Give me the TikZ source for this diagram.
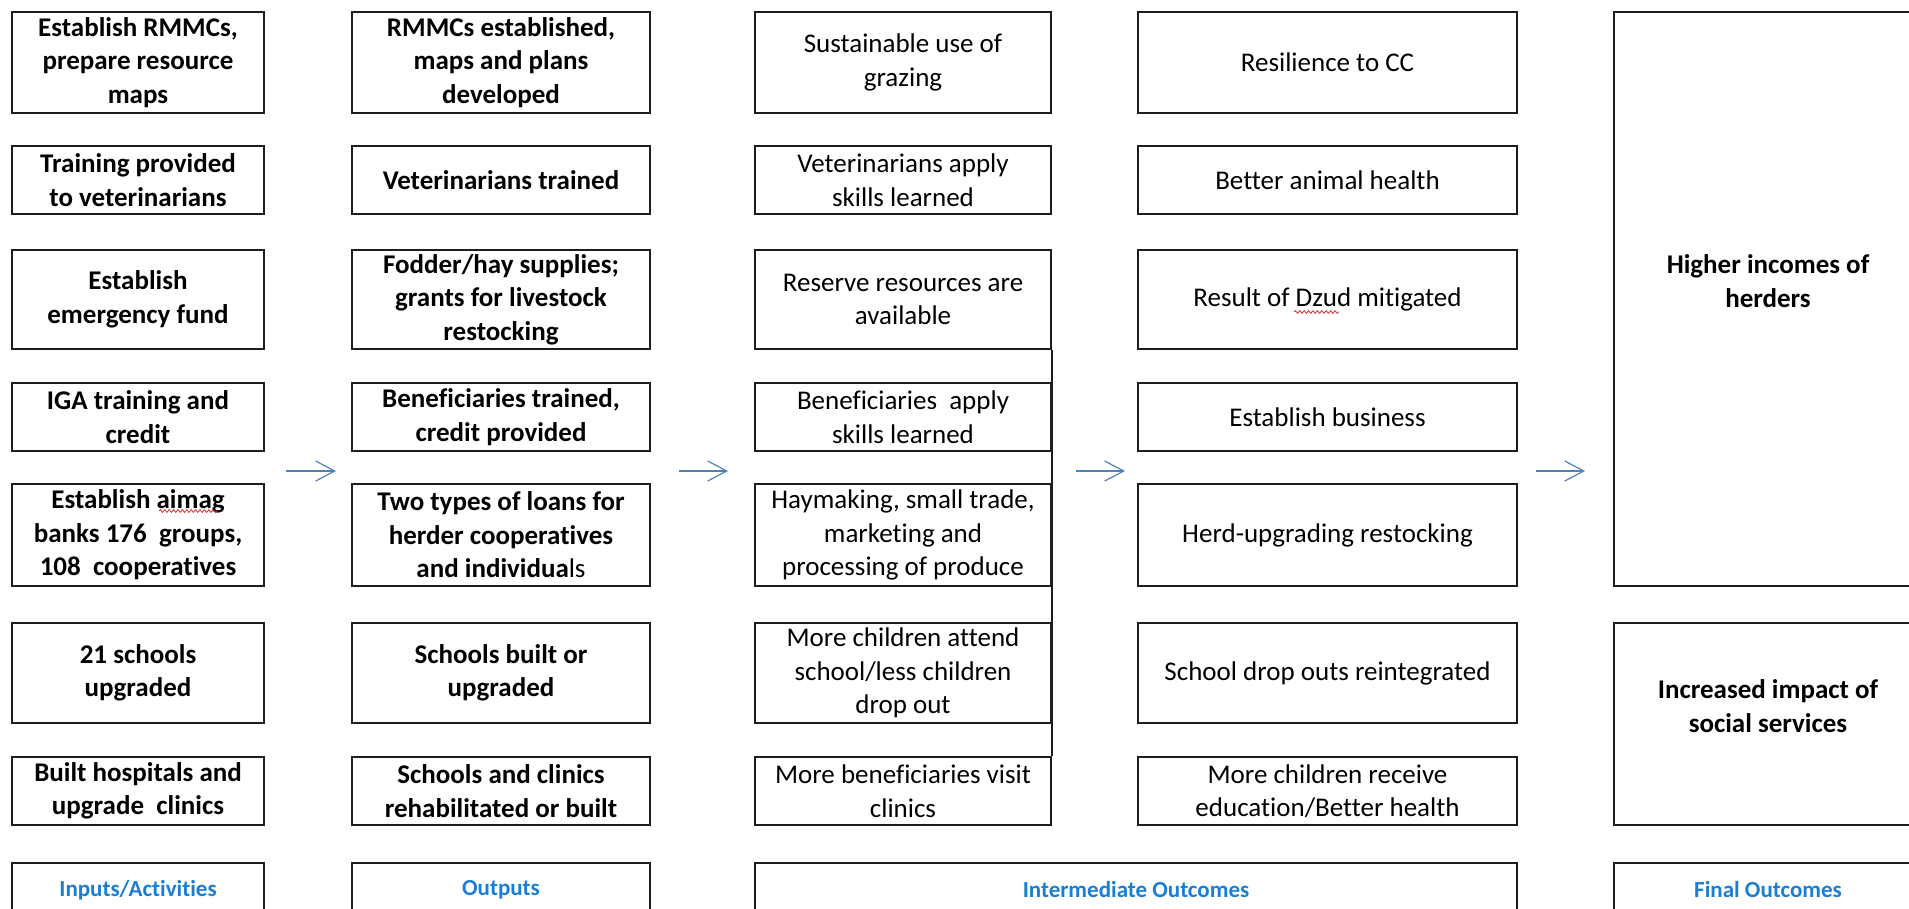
\documentclass[tikz,border=0pt]{standalone}
\usepackage{fontspec}
\setmainfont{Carlito}[Ligatures={NoCommon}]
\usetikzlibrary{arrows.meta,decorations.pathmorphing}
\definecolor{linec}{HTML}{1E1E1E}
\definecolor{arrowc}{HTML}{4F81BD}
\definecolor{labelc}{HTML}{1A7FD4}
\definecolor{squig}{HTML}{E03030}
\begin{document}
\begin{tikzpicture}[x=0.5pt,y=-0.5pt,
  box/.style={draw=linec, line width=1pt, align=center, inner sep=0pt, font=\fontsize{13.5}{16.8}\selectfont},
  bbox/.style={box, font=\fontsize{13.5}{16.8}\selectfont\bfseries},
  ebox/.style={draw=linec, line width=1pt, inner sep=0pt},
  ftext/.style={align=center, inner sep=0pt, font=\fontsize{13.5}{16.8}\selectfont\bfseries},
  lab/.style={box, text=labelc, font=\fontsize{11.5}{14}\selectfont\bfseries},
  wc1/.style={minimum width=126pt}, wc2/.style={minimum width=149pt},
  wc3/.style={minimum width=148pt}, wc4/.style={minimum width=189.5pt},
  wc5/.style={minimum width=154pt},
  hA/.style={minimum height=50.5pt}, hB/.style={minimum height=34pt},
  flow/.style={draw=arrowc, line width=0.6pt, -{Straight Barb[length=9.5pt,width=10pt,line width=0.6pt]}},
  wave/.style={draw=squig, line width=0.4pt, decorate, decoration={snake, amplitude=0.7pt, segment length=2.2pt}}
]
\useasboundingbox (0,0) rectangle (1909,909);
\clip (0,0) rectangle (1909,909);

% column 1: inputs / activities
\node[bbox,wc1,hA] (a1) at (138,62.5) {Establish RMMCs,\\prepare resource\\maps};
\node[bbox,wc1,hB] (a2) at (138,180) {Training provided\\to veterinarians};
\node[bbox,wc1,minimum height=49.5pt] (a3) at (138,299.5) {Establish\\emergency fund};
\node[bbox,wc1,hB] (a4) at (138,417) {IGA training and\\credit};
\node[bbox,wc1,minimum height=51pt] (a5) at (138,535) {Establish aimag\\banks 176~ groups,\\108~ cooperatives};
\node[bbox,wc1,minimum height=50pt] (a6) at (138,673) {21 schools\\upgraded};
\node[bbox,wc1,hB] (a7) at (138,791) {Built hospitals and\\upgrade~ clinics};

% column 2: outputs
\node[bbox,wc2,hA] (b1) at (501,62.5) {RMMCs established,\\maps and plans\\developed};
\node[bbox,wc2,hB] (b2) at (501,180) {Veterinarians trained};
\node[bbox,wc2,minimum height=49.5pt] (b3) at (501,299.5) {Fodder/hay supplies;\\grants for livestock\\restocking};
\node[bbox,wc2,hB] (b4) at (501,417) {Beneficiaries trained,\\credit provided};
\node[bbox,wc2,minimum height=51pt] (b5) at (501,535) {Two types of loans for\\herder cooperatives\\and individua\textmd{ls}};
\node[bbox,wc2,minimum height=50pt] (b6) at (501,673) {Schools built or\\upgraded};
\node[bbox,wc2,hB] (b7) at (501,791) {Schools and clinics\\rehabilitated or built};

% column 3: intermediate outcomes (first)
\node[box,wc3,hA] (c1) at (903,62.5) {Sustainable use of\\grazing};
\node[box,wc3,hB] (c2) at (903,180) {Veterinarians apply\\skills learned};
\node[box,wc3,minimum height=49.5pt] (c3) at (903,299.5) {Reserve resources are\\available};
\node[box,wc3,hB] (c4) at (903,417) {Beneficiaries~ apply\\skills learned};
\node[box,wc3,minimum height=51pt] (c5) at (903,535) {Haymaking, small trade,\\marketing and\\processing of produce};
\node[box,wc3,minimum height=50pt] (c6) at (903,673) {More children attend\\school/less children\\drop out};
\node[box,wc3,hB] (c7) at (903,791) {More beneficiaries visit\\clinics};

% column 4: intermediate outcomes (second)
\node[box,wc4,hA] (d1) at (1327.5,62.5) {Resilience to CC};
\node[box,wc4,hB] (d2) at (1327.5,180) {Better animal health};
\node[box,wc4,minimum height=49.5pt] (d3) at (1327.5,299.5) {Result of Dzud mitigated};
\node[box,wc4,hB] (d4) at (1327.5,417) {Establish business};
\node[box,wc4,minimum height=51pt] (d5) at (1327.5,535) {Herd-upgrading restocking};
\node[box,wc4,minimum height=50pt] (d6) at (1327.5,673) {School drop outs reintegrated};
\node[box,wc4,hB] (d7) at (1327.5,791) {More children receive\\education/Better health};

% column 5: final outcomes
\node[ebox,wc5,minimum height=287pt] (e1) at (1768,299) {};
\node[ftext] (e1t) at (1768,281) {Higher incomes of\\herders};
\node[ebox,wc5,minimum height=101pt] (e2) at (1768,724) {};
\node[ftext] (e2t) at (1768,706) {Increased impact of\\social services};

% labels
\node[lab,wc1,minimum height=27pt] (l1) at (138,890) {Inputs/Activities};
\node[lab,wc2,minimum height=27pt] (l2) at (501,890) {Outputs};
\node[lab,minimum width=381pt,minimum height=27pt] (l3) at (1136,890) {Intermediate Outcomes};
\node[lab,wc5,minimum height=27pt] (l4) at (1768,890) {Final Outcomes};

% vertical line joining column 3
\draw[linec, line width=1pt] (c3.south east) -- (c7.north east);

% arrows
\coordinate (p1s) at (286,471); \coordinate (p1e) at (336,471);
\coordinate (p2s) at (679,471); \coordinate (p2e) at (728,471);
\coordinate (p3s) at (1076,471); \coordinate (p3e) at (1125,471);
\coordinate (p4s) at (1536,471); \coordinate (p4e) at (1585,471);
\draw[flow] (p1s) -- (p1e);
\draw[flow] (p2s) -- (p2e);
\draw[flow] (p3s) -- (p3e);
\draw[flow] (p4s) -- (p4e);

% spell-check squiggles
\draw[wave] (159,511) -- (217,511);
\draw[wave] (1294,312) -- (1339,312);
\end{tikzpicture}
\end{document}
